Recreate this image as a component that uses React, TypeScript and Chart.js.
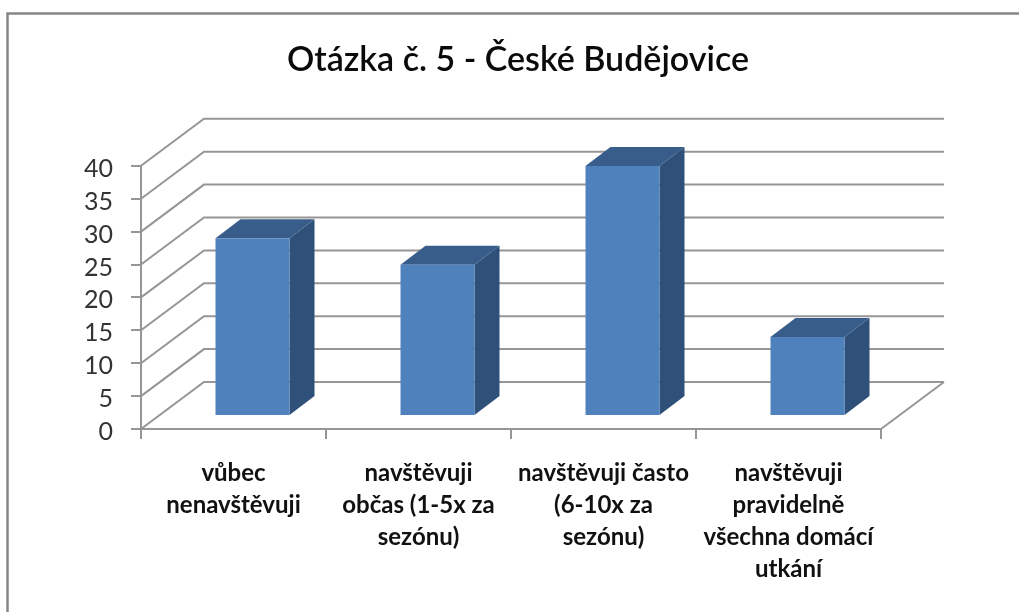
import React, { useEffect, useRef } from "react";
import { Chart, registerables } from "chart.js";

Chart.register(...registerables);

const titleText = "Otázka č. 5 - České Budějovice";
const categories = [
  ["vůbec", "nenavštěvuji"],
  ["navštěvuji", "občas (1-5x za", "sezónu)"],
  ["navštěvuji často", "(6-10x za", "sezónu)"],
  ["navštěvuji", "pravidelně", "všechna domácí", "utkání"],
];
const values = [27, 23, 38, 12];
const axisMax = 40;
const axisStep = 5;

const GRID = "#969696";
const FRONT = "#4F81BD";
const TOP = "#385D8A";
const SIDE = "#2F5078";
const WALL = { dx: 63, dy: -47 };
const BAR_OFFSET = { dx: 19, dy: -13 };
const BAR_DEPTH = { dx: 25, dy: -19 };

const poly = (ctx: CanvasRenderingContext2D, pts: number[][], fill: string) => {
  ctx.beginPath();
  pts.forEach(([x, y], i) => (i ? ctx.lineTo(x, y) : ctx.moveTo(x, y)));
  ctx.closePath();
  ctx.fillStyle = fill;
  ctx.fill();
};

const threeD = {
  id: "threeD",
  afterLayout(chart: any) {
    // the title is centred on the whole frame, not on the plot
    chart.titleBlock.left = 0;
    chart.titleBlock.right = 1036;
  },
  beforeDatasetsDraw(chart: any) {
    const { ctx, chartArea, scales } = chart;
    const { left, right, bottom } = chartArea;
    ctx.save();
    ctx.strokeStyle = GRID;
    ctx.lineWidth = 2;
    scales.y.ticks.forEach((t: any) => {
      const y = scales.y.getPixelForValue(t.value);
      ctx.beginPath();
      ctx.moveTo(left, y);
      ctx.lineTo(left + WALL.dx, y + WALL.dy);
      ctx.lineTo(right + WALL.dx, y + WALL.dy);
      ctx.stroke();
    });
    ctx.beginPath();
    ctx.moveTo(right, bottom);
    ctx.lineTo(right + WALL.dx, bottom + WALL.dy);
    ctx.stroke();
    chart.getDatasetMeta(0).data.forEach((bar: any) => {
      const l = bar.x - bar.width / 2 + BAR_OFFSET.dx;
      const r = l + bar.width;
      const t = bar.y + BAR_OFFSET.dy;
      const b = bar.base + BAR_OFFSET.dy;
      const { dx, dy } = BAR_DEPTH;
      poly(ctx, [[r, t], [r + dx, t + dy], [r + dx, b + dy], [r, b]], SIDE);
      poly(ctx, [[l, t], [l + dx, t + dy], [r + dx, t + dy], [r, t]], TOP);
    });
    ctx.restore();
  },
  beforeDatasetDraw(chart: any) {
    chart.ctx.save();
    chart.ctx.translate(BAR_OFFSET.dx, BAR_OFFSET.dy);
  },
  afterDatasetDraw(chart: any) {
    chart.ctx.restore();
  },
  beforeDraw(chart: any) {
    const { ctx } = chart;
    ctx.save();
    ctx.fillStyle = "#ffffff";
    ctx.fillRect(0, 0, chart.width, chart.height);
    ctx.strokeStyle = "#868686";
    ctx.lineWidth = 2.5;
    ctx.beginPath();
    ctx.moveTo(7.5, chart.height + 5);
    ctx.lineTo(7.5, 13.5);
    ctx.lineTo(chart.width + 5, 13.5);
    ctx.stroke();
    ctx.restore();
  },
};

export default function App() {
  const ref = useRef<HTMLCanvasElement>(null);
  useEffect(() => {
    const chart = new Chart(ref.current!, {
      type: "bar",
      data: {
        labels: categories as any,
        datasets: [
          {
            data: values,
            backgroundColor: FRONT,
            barPercentage: 0.4,
            categoryPercentage: 1,
          },
        ],
      },
      options: {
        animation: false,
        responsive: false,
        layout: { padding: { left: 0, right: 138, top: 0, bottom: 0 } },
        plugins: {
          legend: { display: false },
          tooltip: { enabled: false },
          title: {
            display: true,
            text: titleText,
            color: "#0a0a0a",
            font: { family: "Lato", size: 34, weight: "600" as any, lineHeight: 1.2 },
            padding: { top: 40, bottom: 85 },
          },
        },
        scales: {
          x: {
            afterFit: (s: any) => {
              s.height = 183;
            },
            grid: { drawOnChartArea: false, drawTicks: true, tickLength: 10, color: GRID, lineWidth: 2 },
            border: { color: GRID, width: 2 },
            ticks: {
              color: "#111111",
              maxRotation: 0,
              autoSkip: false,
              padding: 18,
              font: { family: "Lato", size: 24, weight: "bold", lineHeight: 1.333 },
            },
          },
          y: {
            min: 0,
            max: axisMax,
            afterFit: (s: any) => {
              s.width = 141;
            },
            grid: { drawOnChartArea: false, drawTicks: true, tickLength: 10, color: GRID, lineWidth: 2 },
            border: { color: GRID, width: 2 },
            ticks: {
              stepSize: axisStep,
              autoSkip: false,
              color: "#333333",
              padding: 18,
              labelOffset: 3,
              font: { family: "Lato", size: 25 },
            },
          },
        },
      },
      plugins: [threeD],
    });
    return () => chart.destroy();
  }, []);
  return (
    <div style={{ position: "fixed", left: 0, top: 0 }}>
      <canvas ref={ref} width={1019} height={612} style={{ display: "block" }} />
    </div>
  );
}
